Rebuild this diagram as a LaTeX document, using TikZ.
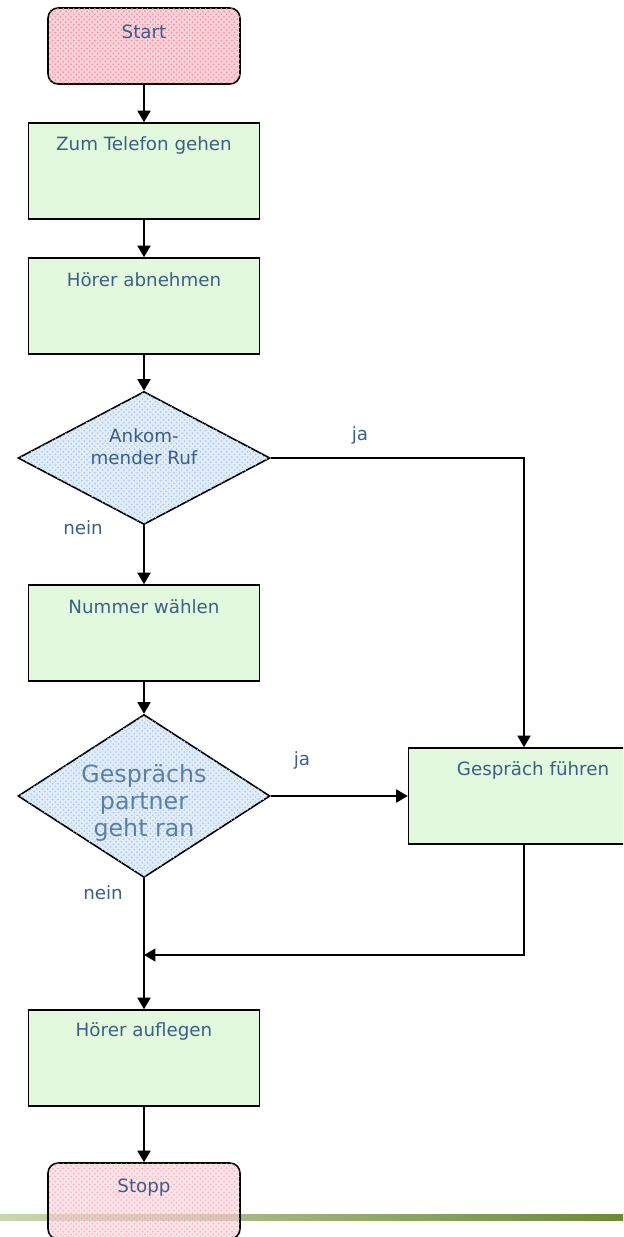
\documentclass[tikz,border=0pt]{standalone}
\usepackage{fontspec}
\setmainfont{DejaVu Sans}
\usetikzlibrary{arrows.meta, positioning, shapes.geometric, patterns}

\definecolor{termpink}{HTML}{F9D0D8}
\definecolor{termhatch}{HTML}{EE8FA0}
\definecolor{stepgreen}{HTML}{E3F9DD}
\definecolor{askblue}{HTML}{E0ECF8}
\definecolor{askhatch}{HTML}{A9C6E6}
\definecolor{labelblue}{HTML}{3D5E86}
\definecolor{softblue}{HTML}{5B80A8}
\definecolor{barlight}{HTML}{C9D7AE}
\definecolor{bardark}{HTML}{6C8A3A}

\begin{document}
\begin{tikzpicture}[
    x=0.02cm, y=-0.02cm,
    arr/.style={-{Triangle[length=2.3mm, width=2.6mm]}, line width=0.9pt},
    term/.style={draw, line width=0.9pt, rounded corners=2mm, fill=termpink,
                 postaction={pattern=crosshatch dots, pattern color=termhatch},
                 minimum width=3.84cm, minimum height=1.52cm, inner sep=0pt},
    stepbox/.style={draw, line width=0.9pt, fill=stepgreen,
                 minimum width=4.62cm, minimum height=1.92cm, inner sep=0pt},
    ask/.style={draw, diamond, line width=0.9pt, fill=askblue,
                postaction={pattern=crosshatch dots, pattern color=askhatch},
                minimum width=5.04cm, inner sep=0pt},
    txt/.style={font=\fontsize{10.4}{12.6}\selectfont, text=labelblue, inner sep=0pt,
                align=center},
    big/.style={font=\fontsize{13.5}{15.4}\selectfont, text=softblue, inner sep=0pt,
                align=center}
  ]
  \useasboundingbox (0,0) rectangle (623,1237);
  \clip (0,0) rectangle (623,1237);

  % green bar at the page bottom
  \shade[left color=barlight, right color=bardark] (0,1214) rectangle (623,1220);

  % main column
  \node[term] (start) at (144,46) {};
  \node[stepbox] (b1) at (144,171) {};
  \node[stepbox] (b2) at (144,306) {};
  \node[ask, minimum height=2.66cm] (d1) at (144,458) {};
  \node[stepbox] (b3) at (144,633) {};
  \node[ask, minimum height=3.26cm] (d2) at (144,796) {};
  \node[stepbox] (b5) at (144,1058) {};
  \node[term, fill opacity=0.6] (stop) at (144,1201) {};

  % side branch
  \node[stepbox] (b4) at (524,796) {};

  % texts
  \node[txt] (tstart) at (144,32) {Start};
  \node[txt] (tb1) at (144,145) {Zum Telefon gehen};
  \node[txt] (tb2) at (144,280) {Hörer abnehmen};
  \node[txt] (td1) at (144,447) {Ankom-\\mender Ruf};
  \node[txt] (tb3) at (144,607) {Nummer wählen};
  \node[big] (td2) at (144,803) {Gesprächs\\partner\\geht ran};
  \node[txt] (tb4) at (533,770) {Gespräch führen};
  \node[txt] (tb5) at (144,1031) {Hörer auflegen};
  \node[txt] (tstop) at (144,1188) {Stopp};

  \node[txt] (ja1) at (360,435) {ja};
  \node[txt] (nein1) at (83,528) {nein};
  \node[txt] (ja2) at (302,760) {ja};
  \node[txt] (nein2) at (103,893) {nein};

  \coordinate (merge) at (144,955);

  % connectors
  \draw[arr] (start) -- (b1);
  \draw[arr] (b1) -- (b2);
  \draw[arr] (b2) -- (d1);
  \draw[arr] (d1) -- (b3);
  \draw[arr] (b3) -- (d2);
  \draw[arr] (d1.east) -| (b4.north);
  \draw[arr] (d2.east) -- (b4.west);
  \draw[arr] (b4.south) |- (merge);
  \draw[arr] (d2.south) -- (b5.north);
  \draw[arr] (b5) -- (stop);
\end{tikzpicture}
\end{document}
